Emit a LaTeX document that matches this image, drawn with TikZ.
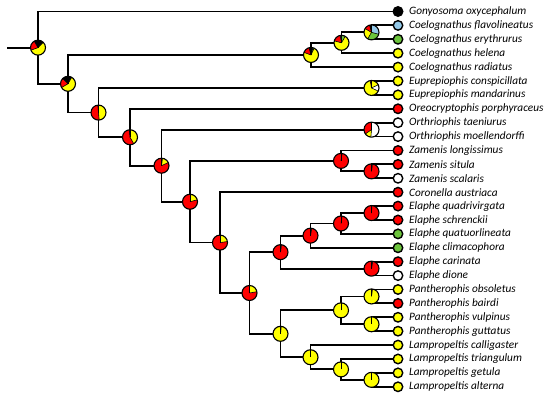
\documentclass[tikz,border=0pt]{standalone}
\usepackage{fontspec}
\setmainfont{Carlito}
\definecolor{pred}{HTML}{FF0000}
\definecolor{pyel}{HTML}{FFFF00}
\definecolor{pgrn}{HTML}{6CC43C}
\definecolor{pblu}{HTML}{92C8E8}
\tikzset{
  branch/.style={line width=1.8pt},
  tipdot/.style={circle, draw, line width=1.4pt, minimum size=9.5pt, inner sep=0pt},
  taxon/.style={anchor=west, inner sep=0pt, font=\itshape\fontsize{11.3}{12}\selectfont},
  pieline/.style={line width=0.6pt},
  pieedge/.style={line width=1.1pt},
}
\newcommand\pr{7.5}
\newcommand\pienode[2]{%
  \foreach \pc/\pa/\pb in {#2} {
    \fill[\pc] (#1) -- ++({90-\pa}:\pr) arc[start angle={90-\pa}, end angle={90-\pb}, radius=\pr] -- cycle;
  }
  \foreach \pc/\pa/\pb in {#2} { \draw[pieline] (#1) -- ++({90-\pa}:\pr); }
  \draw[pieedge] (#1) circle[radius=\pr];
}
\begin{document}
\begin{tikzpicture}[x=1pt,y=1pt]
\useasboundingbox (0,0) rectangle (550,399);
% tips
\foreach \i/\yy in {0/387.5, 1/373.6, 2/359.7, 3/345.8, 4/331.9, 5/318.0, 6/304.1,
 7/290.2, 8/276.3, 9/262.4, 10/248.5, 11/234.6, 12/220.7, 13/206.8, 14/192.9,
 15/179.0, 16/165.1, 17/151.2, 18/137.3, 19/123.4, 20/109.5, 21/95.6, 22/81.7,
 23/67.8, 24/53.9, 25/40.0, 26/26.1, 27/12.2}{
  \coordinate (t\i) at (398,\yy);
}
% internal nodes
\coordinate (stem) at (7,351.35);
\coordinate (root) at (38,351.35);
\coordinate (A) at (68,315.2);
\coordinate (Cs) at (311,344.05);
\coordinate (Cs1) at (341.5,356.2);
\coordinate (Cs2) at (371.5,366.65);
\coordinate (B) at (98.5,286.4);
\coordinate (Eu) at (371.5,311.05);
\coordinate (C) at (130,261.75);
\coordinate (D) at (161.5,233.3);
\coordinate (Or) at (371.5,269.35);
\coordinate (E) at (190,197.25);
\coordinate (Z) at (341,238.1);
\coordinate (Zs) at (371.5,227.65);
\coordinate (F) at (220,156.4);
\coordinate (G) at (249.5,106.0);
\coordinate (H) at (280.5,146.85);
\coordinate (J) at (310.5,163.35);
\coordinate (K) at (341,175.5);
\coordinate (L) at (371.5,185.95);
\coordinate (EC) at (371.5,130.35);
\coordinate (I) at (280.5,65.2);
\coordinate (M) at (341,88.65);
\coordinate (P1) at (371.5,102.55);
\coordinate (P2) at (371.5,74.75);
\coordinate (N) at (310.5,41.75);
\coordinate (O) at (341,29.6);
\coordinate (Q) at (371.5,19.15);
% branches
\draw[branch] (stem) -- (root);
\foreach \p/\c in {root/t0, root/A, A/Cs, A/B, Cs/Cs1, Cs/t4, Cs1/Cs2, Cs1/t3,
  Cs2/t1, Cs2/t2, B/Eu, B/C, Eu/t5, Eu/t6, C/t7, C/D, D/Or, D/E, Or/t8, Or/t9,
  E/Z, E/F, Z/t10, Z/Zs, Zs/t11, Zs/t12, F/t13, F/G, G/H, G/I, H/J, H/EC,
  J/K, J/t17, K/L, K/t16, L/t14, L/t15, EC/t18, EC/t19, I/M, I/N, M/P1, M/P2,
  P1/t20, P1/t21, P2/t22, P2/t23, N/t24, N/O, O/t25, O/Q, Q/t26, Q/t27}{
  \draw[branch] (\p) |- (\c);
}
% tip dots and labels
\foreach \i/\cc/\nm in {
 0/black/Gonyosoma oxycephalum,
 1/pblu/Coelognathus flavolineatus,
 2/pgrn/Coelognathus erythrurus,
 3/pyel/Coelognathus helena,
 4/pyel/Coelognathus radiatus,
 5/pyel/Euprepiophis conspicillata,
 6/pyel/Euprepiophis mandarinus,
 7/pred/Oreocryptophis porphyraceus,
 8/white/Orthriophis taeniurus,
 9/white/Orthriophis moellendorffi,
 10/pred/Zamenis longissimus,
 11/pred/Zamenis situla,
 12/white/Zamenis scalaris,
 13/pred/Coronella austriaca,
 14/pred/Elaphe quadrivirgata,
 15/pred/Elaphe schrenckii,
 16/pgrn/Elaphe quatuorlineata,
 17/pgrn/Elaphe climacophora,
 18/pred/Elaphe carinata,
 19/white/Elaphe dione,
 20/pyel/Pantherophis obsoletus,
 21/pred/Pantherophis bairdi,
 22/pyel/Pantherophis vulpinus,
 23/pyel/Pantherophis guttatus,
 24/pyel/Lampropeltis calligaster,
 25/pyel/Lampropeltis triangulum,
 26/pyel/Lampropeltis getula,
 27/pyel/Lampropeltis alterna}{
  \node[tipdot, fill=\cc] (d\i) at (t\i) {};
  \node[taxon] (lab\i) at ([xshift=5.5pt]d\i.east) {\nm};
}
% pies
\pienode{root}{black/0/45, pyel/45/250, pred/250/330, black/330/360}
\pienode{A}{black/0/30, pyel/30/240, pred/240/315, black/315/360}
\pienode{Cs}{black/0/15, pgrn/15/25, pyel/25/290, pred/290/345, black/345/360}
\pienode{Cs1}{pgrn/0/30, pyel/30/285, pred/285/350, black/350/360}
\pienode{Cs2}{pblu/0/105, pgrn/105/210, pyel/210/300, pred/300/345, black/345/360}
\pienode{Eu}{pyel/0/65, white/65/115, pyel/115/350, pred/350/360}
\pienode{Or}{white/0/185, pyel/185/235, pred/235/360}
\pienode{B}{pyel/0/175, pred/175/355, black/355/360}
\pienode{C}{pyel/0/150, pred/150/355, black/355/360}
\pienode{D}{black/0/8, pyel/8/65, pred/65/360}
\pienode{E}{pyel/0/75, pred/75/360}
\pienode{F}{pyel/0/82, pred/82/360}
\pienode{G}{pyel/0/80, pred/80/360}
\pienode{H}{pgrn/0/8, pred/8/360}
\pienode{J}{pgrn/0/10, pred/10/360}
\pienode{K}{pgrn/0/8, pred/8/360}
\pienode{L}{black/0/3, pred/3/360}
\pienode{Z}{pgrn/0/8, pred/8/360}
\pienode{Zs}{pgrn/0/8, pred/8/360}
\pienode{EC}{pgrn/0/10, pred/10/360}
\pienode{I}{pred/0/6, pyel/6/360}
\pienode{M}{pyel/0/360}
\pienode{P1}{pred/0/8, pyel/8/360}
\pienode{P2}{pyel/0/360}
\pienode{N}{pyel/0/360}
\pienode{O}{pyel/0/360}
\pienode{Q}{pyel/0/360}
\end{tikzpicture}
\end{document}
